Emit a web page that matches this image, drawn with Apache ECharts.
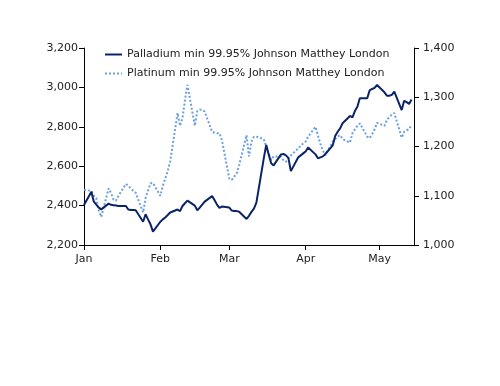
<!DOCTYPE html>
<html><head><meta charset="utf-8">
<script src="https://cdn.jsdelivr.net/npm/echarts@6/dist/echarts.min.js"></script>
<style>html,body{margin:0;padding:0;background:#fff}#c{width:500px;height:386px}</style>
</head><body><div id="c"></div>
<script>
// Axis range (calendar days, 2021)
var startDate = '2021-01-01';
var endDate = '2021-05-15';
var monthLabels = ['Jan','Feb','Mar','Apr','May'];
var leftTicks = [2200, 2400, 2600, 2800, 3000, 3200];
var rightTicks = [1000, 1100, 1200, 1300, 1400];
var seriesNames = ['Palladium min 99.95% Johnson Matthey London', 'Platinum min 99.95% Johnson Matthey London'];

// Weekday values, Jan 1 .. May 14 2021 (one per weekday)
var palladium = [
  2403,2470,2420,2405,2390,2381, 2410,2404,2402,2400,2398, 2398,2380,2378,2378,2376, 2318,2356,2330,2305,2268,
  2318,2330,2340,2352,2365, 2380,2372,2398,2412,2425, 2400,2376,2390,2405,2420, 2448,2428,2405,2388,2395,
  2390,2375,2373,2372,2369, 2332,2348,2368,2385,2415, 2640,2708,2660,2615,2604, 2660,2662,2655,2642,2575, 2645,2655,2665,
  2675,2695, 2660,2640,2645,2650,2662, 2706,2753,2775,2792,2818, 2855,2848,2880,2902,2945, 2945,2985,2992,2998,3012,
  2975,2958,2958,2962,2978, 2885,2932,2925,2916,2938
];
var platinum = [
  1112,1110,1100,1095,1070,1057, 1115,1105,1092,1090,1100, 1124,1120,1115,1110,1106, 1066,1095,1110,1125,1126,
  1100,1120,1135,1150,1170, 1268,1242,1258,1294,1325, 1242,1272,1275,1274,1271, 1230,1228,1227,1227,1213,
  1135,1132,1139,1145,1162, 1223,1180,1210,1220,1220, 1215,1200,1185,1173,1180, 1179,1172,1169,1176,1182, 1196,1202,1206,
  1210,1220, 1240,1222,1205,1192,1182, 1210,1215,1220,1223,1215, 1208,1227,1235,1242,1247, 1220,1217,1225,1235,1248,
  1242,1254,1260,1265,1268, 1218,1230,1233,1235,1244
];

// build calendar categories; weekday values placed on weekdays
var days = [], pd = [], pt = [], k = 0;
var t0 = Date.parse(startDate + 'T00:00:00Z'), t1 = Date.parse(endDate + 'T00:00:00Z');
for (var t = t0; t <= t1; t += 86400000) {
  var d = new Date(t);
  days.push(d);
  var wd = d.getUTCDay();
  if (wd !== 0 && wd !== 6 && k < palladium.length) { pd.push(palladium[k]); pt.push(platinum[k]); k++; }
  else { pd.push(null); pt.push(null); }
}
var cats = days.map(function (d) { return d.toISOString().slice(0, 10); });
function isMonthStart(i) { return days[i].getUTCDate() === 1; }

var font = 'DejaVu Sans';
var chart = echarts.init(document.getElementById('c'), null, {renderer: 'canvas'});
chart.setOption({
  animation: false,
  backgroundColor: '#ffffff',
  grid: {left: 84, right: 86, top: 48, bottom: 141, containLabel: false},
  legend: {
    orient: 'vertical', left: 99, top: 44, itemWidth: 17, itemHeight: 10, itemGap: 8,
    itemStyle: {opacity: 0},
    textStyle: {fontFamily: font, fontSize: 11, color: '#222'},
    data: seriesNames
  },
  xAxis: {
    type: 'category', data: cats, boundaryGap: false,
    axisLine: {lineStyle: {color: '#000', width: 1}},
    axisTick: {interval: function (i) { return isMonthStart(i); }, length: 5, lineStyle: {color: '#000'}},
    axisLabel: {interval: function (i) { return isMonthStart(i); }, margin: 9,
      formatter: function (v) { return monthLabels[parseInt(v.slice(5, 7), 10) - 1]; },
      fontFamily: font, fontSize: 11, color: '#222'},
    splitLine: {show: false}
  },
  yAxis: [
    {type: 'value', min: 2200, max: 3200, interval: 200, position: 'left',
      axisLine: {show: true, lineStyle: {color: '#000'}},
      axisTick: {show: true, length: 5, lineStyle: {color: '#000'}},
      axisLabel: {margin: 6, fontFamily: font, fontSize: 11, color: '#222',
        formatter: function (v) { return v.toLocaleString('en-US'); }},
      splitLine: {show: false}},
    {type: 'value', min: 1000, max: 1400, interval: 100, position: 'right',
      axisLine: {show: true, lineStyle: {color: '#000'}},
      axisTick: {show: true, length: 5, lineStyle: {color: '#000'}},
      axisLabel: {margin: 9, fontFamily: font, fontSize: 11, color: '#222',
        formatter: function (v) { return v.toLocaleString('en-US'); }},
      splitLine: {show: false}}
  ],
  series: [
    {name: seriesNames[0], type: 'line', yAxisIndex: 0, data: pd, connectNulls: true, showSymbol: false, symbol: 'none',
      lineStyle: {color: '#0b2466', width: 2}, itemStyle: {color: '#0b2466'}, z: 3},
    {name: seriesNames[1], type: 'line', yAxisIndex: 1, data: pt, connectNulls: true, showSymbol: false, symbol: 'none',
      lineStyle: {color: '#6a9fe0', width: 2, type: [2, 2]}, itemStyle: {color: '#6a9fe0'}, z: 2}
  ]
});
</script></body></html>
